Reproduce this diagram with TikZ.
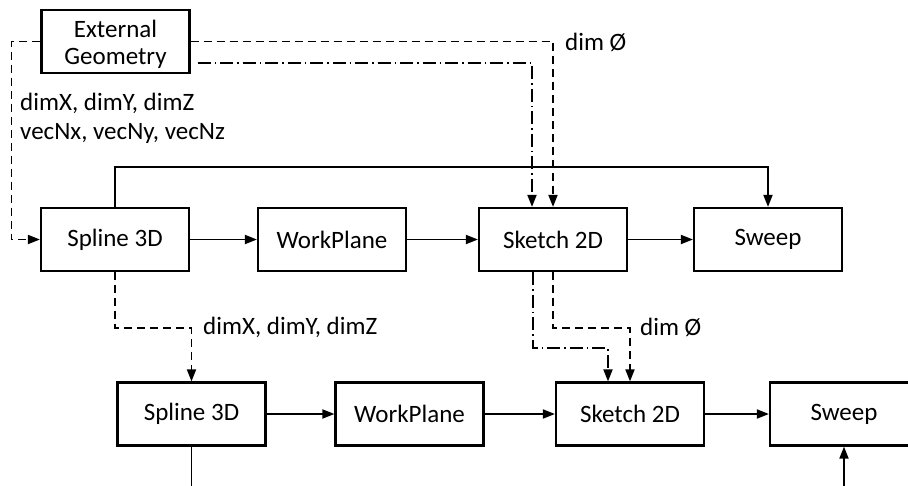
\documentclass[tikz,border=0pt]{standalone}
\usepackage{fontspec}
\setmainfont{Carlito}
\usetikzlibrary{arrows.meta,calc}
\begin{document}
\begin{tikzpicture}[x=1pt,y=-1pt,
  font=\fontsize{25}{26}\selectfont,
  blk/.style={draw,line width=2.2pt,minimum width=148pt,minimum height=63pt,inner sep=0pt,align=center},
  con/.style={line width=1.8pt},
  arr/.style={-{Triangle[length=12pt,width=9pt]}},
  dsh/.style={dash pattern=on 8pt off 5pt},
  ddot/.style={dash pattern=on 13pt off 4pt on 1.5pt off 4pt},
  lbl/.style={anchor=west,inner sep=0pt}]
\clip (0,0) rectangle (908,485);
\fill[white] (0,0) rectangle (908,485);
% nodes
\node[blk,font=\fontsize{25}{27}\selectfont] (eg) at (115.5,41.5) {\raisebox{-4pt}[\height][\depth]{\begin{tabular}{@{}c@{}}External\\Geometry\end{tabular}}};
\node[blk] (s1) at (115,239.5) {Spline 3D};
\node[blk] (w1) at (332,239.5) {WorkPlane};
\node[blk] (k1) at (553,239.5) {Sketch 2D};
\node[blk] (p1) at (768,239.5) {Sweep};
\node[blk] (s2) at (191.5,414) {Spline 3D};
\node[blk] (w2) at (409.5,414) {WorkPlane};
\node[blk] (k2) at (630,414) {Sketch 2D};
\node[blk] (p2) at (844,414) {Sweep};
\coordinate (bot1) at (191.5,490);
\coordinate (bot2) at (844,490);
% labels
\node[lbl] (l1) at (20,103) {dimX, dimY, dimZ};
\node[lbl] (l2) at (20,133) {vecNx, vecNy, vecNz};
\node[lbl] (l3) at (565,42) {dim Ø};
\node[lbl] (l4) at (203,327) {dimX, dimY, dimZ};
\node[lbl] (l5) at (640,327) {dim Ø};
% row connectors
\draw[con,arr] (s1) -- (w1);
\draw[con,arr] (w1) -- (k1);
\draw[con,arr] (k1) -- (p1);
\draw[con,arr] (s2) -- (w2);
\draw[con,arr] (w2) -- (k2);
\draw[con,arr] (k2) -- (p2);
% feedback / other
\draw[con,arr] (s1.north) -- ++(0,-40) -| (p1.north);
\draw[con,dsh,arr] (eg.west) -- ++(-29,0) |- (s1.west);
\draw[con,dsh,arr] (eg.east) -| (k1.north);
\draw[con,ddot,arr] ($(eg.south east)+(7,-11)$) -| ([xshift=-21pt]k1.north);
\draw[con,dsh,arr] (s1.south) -- ++(0,56) -| (s2.north);
\draw[con,dsh,arr] (k1.south) -- ++(0,56) -| (k2.north);
\draw[con,ddot,arr] ([xshift=-20pt]k1.south) -- ++(0,76) -| ([xshift=-22pt]k2.north);
\draw[con] (s2.south) -- (bot1);
\draw[con,arr] (bot2) -- (p2.south);
\end{tikzpicture}
\end{document}
